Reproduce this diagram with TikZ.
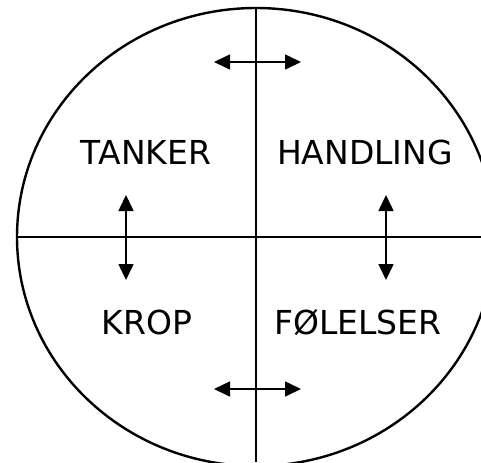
\documentclass[tikz,border=0pt]{standalone}
\usepackage{fontspec}
\setmainfont{DejaVu Sans}
\usetikzlibrary{arrows.meta,positioning}
\tikzset{
  rim/.style={line width=1.2pt, black},
  axl/.style={line width=1pt, black},
  qlab/.style={font=\fontsize{16.5}{19}\selectfont, inner sep=0pt},
  darr/.style={{Triangle[length=8pt, width=7.5pt]}-{Triangle[length=8pt, width=7.5pt]}, line width=0.8pt},
}

\begin{document}
\begin{tikzpicture}[x=0.5pt,y=-0.5pt]
\useasboundingbox (0,0) rectangle (481,462);
\clip (0,0) rectangle (481,462);
\coordinate (c) at (256,237);
\draw[rim] (c) ellipse [x radius=239, y radius=229];
\draw[axl] (17,237) -- (481,237);
\draw[axl] (256,8) -- (256,462);
% quadrant labels
\node[qlab] (tanker) at (146,152) {TANKER};
\node[qlab] (handling) at (365,152) {HANDLING};
\node[qlab] (krop) at (147,322) {KROP};
\node[qlab] (foelelser) at (358,322) {FØLELSER};
% arrows
\coordinate (t1) at (214,62);  \coordinate (t2) at (301,62);
\coordinate (b1) at (214,389); \coordinate (b2) at (301,389);
\coordinate (l1) at (126,195); \coordinate (l2) at (126,280);
\coordinate (r1) at (386,195); \coordinate (r2) at (386,280);
\draw[darr] (t1) -- (t2);
\draw[darr] (b1) -- (b2);
\draw[darr] (l1) -- (l2);
\draw[darr] (r1) -- (r2);
\end{tikzpicture}
\end{document}
